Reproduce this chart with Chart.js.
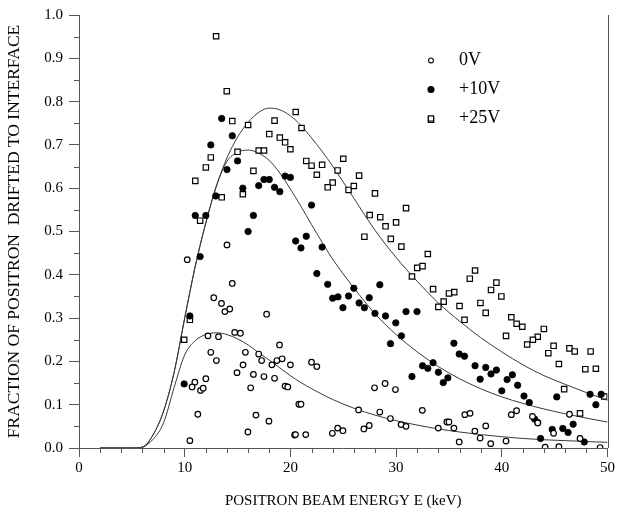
<!DOCTYPE html>
<html>
<head>
<meta charset="utf-8">
<script src="https://cdn.jsdelivr.net/npm/chart.js@4/dist/chart.umd.min.js"></script>
<style>
  html, body { margin: 0; padding: 0; background: #fff; }
  canvas { display: block; }
</style>
</head>
<body>
<canvas id="c" width="617" height="514"></canvas>
<script>
// ---------- DATA ----------
const seriesNames = ["0V", "+10V", "+25V"];
const xTicks = [0, 10, 20, 30, 40, 50];
const yTicks = [0.0, 0.1, 0.2, 0.3, 0.4, 0.5, 0.6, 0.7, 0.8, 0.9, 1.0];

// 0V (open circles)
const v0X = [10.24,14.0,14.5,12.75,13.48,13.8,14.26,17.75,12.2,13.2,14.73,15.27,18.97,12.47,15.74,17.0,13.0,17.28,18.72,19.22,18.25,20.0,15.52,14.95,16.5,17.5,18.5,12.0,10.96,10.7,11.5,11.75,16.24,19.5,19.75,20.8,11.24,16.74,17.97,15.98,20.4,10.49,
  22.0,22.5,21.0,27.96,28.96,29.94,26.45,28.46,29.46,32.48,30.47,30.94,34.8,33.99,26.95,27.46,24.47,24.97,23.97,20.48,21.45,
  36.5,37.0,35.0,35.47,37.45,37.95,38.48,35.97,38.95,40.4,40.9,41.4,42.9,43.4,44.9,46.4,47.4,45.4,44.1,49.3];
const v0Y = [0.435,0.469,0.380,0.347,0.334,0.315,0.321,0.309,0.259,0.257,0.267,0.265,0.238,0.221,0.221,0.217,0.202,0.202,0.202,0.206,0.192,0.192,0.192,0.174,0.170,0.165,0.161,0.160,0.152,0.141,0.133,0.138,0.139,0.143,0.141,0.101,0.078,0.076,0.062,0.037,0.030,0.017,
  0.198,0.188,0.101,0.139,0.149,0.135,0.088,0.083,0.068,0.087,0.054,0.050,0.060,0.046,0.044,0.052,0.046,0.040,0.034,0.031,0.031,
  0.077,0.080,0.060,0.046,0.039,0.023,0.051,0.014,0.010,0.016,0.077,0.086,0.073,0.058,0.034,0.078,0.022,0.003,0.002,0.001];

// +10V (filled circles)
const v10X = [13.5,14.5,12.47,15.0,14.0,17.5,18.0,19.5,20.0,12.94,15.5,17.0,18.5,19.0,11.0,12.0,16.5,16.0,20.5,11.46,10.49,9.95,
  22.0,21.5,21.0,23.0,
  22.5,23.53,24.0,24.5,24.97,25.5,26.0,28.46,26.5,27.0,27.46,28.0,29.0,29.97,30.94,31.98,30.5,29.47,32.5,33.0,33.5,34.0,34.9,34.46,31.5,
  35.47,35.97,36.47,37.47,38.48,39.49,37.95,38.98,41.0,40.5,41.5,40.0,42.1,42.6,45.2,48.35,49.4,48.9,43.1,43.4,46.75,45.77,46.27,44.77,43.67,47.8];
const v10Y = [0.761,0.721,0.700,0.663,0.643,0.620,0.620,0.628,0.625,0.582,0.600,0.606,0.602,0.592,0.537,0.537,0.537,0.500,0.478,0.442,0.305,0.148,
  0.561,0.489,0.462,0.464,
  0.403,0.378,0.346,0.349,0.324,0.351,0.369,0.377,0.335,0.324,0.347,0.311,0.305,0.289,0.315,0.315,0.259,0.241,0.190,0.184,0.197,0.175,0.162,0.151,0.165,
  0.242,0.217,0.212,0.190,0.186,0.180,0.159,0.171,0.169,0.158,0.145,0.132,0.120,0.105,0.118,0.124,0.124,0.100,0.067,0.059,0.055,0.045,0.036,0.043,0.022,0.014];

// +25V (open squares)
const v25X = [12.97,13.98,14.5,16.0,18.5,20.5,18.0,19.0,19.5,20.0,12.47,12.0,15.0,17.0,17.5,16.5,11.0,13.5,15.5,11.46,10.49,9.95,
  21.05,33.3,21.5,22.0,23.0,25.0,22.5,24.47,26.5,24.0,23.53,25.5,26.0,28.0,30.94,27.5,28.5,29.0,30.0,27.0,29.5,30.5,33.0,
  32.0,32.5,31.5,33.5,34.5,34.0,
  37.47,36.97,38.98,39.49,39.96,35.5,35.0,37.98,36.0,38.48,36.47,40.9,41.4,41.94,43.98,40.4,43.4,42.94,42.4,44.9,44.4,46.4,46.9,48.4,45.4,47.9,48.9,45.9,49.7,47.4];
const v25Y = [0.951,0.824,0.755,0.746,0.756,0.776,0.725,0.717,0.706,0.690,0.671,0.648,0.684,0.687,0.687,0.640,0.617,0.579,0.586,0.525,0.296,0.250,
  0.739,0.758,0.663,0.652,0.654,0.668,0.631,0.641,0.629,0.613,0.602,0.596,0.605,0.588,0.554,0.538,0.533,0.512,0.521,0.488,0.483,0.465,0.448,
  0.416,0.420,0.396,0.367,0.338,0.326,
  0.410,0.391,0.365,0.382,0.350,0.360,0.357,0.335,0.328,0.312,0.296,0.302,0.287,0.280,0.275,0.259,0.257,0.250,0.239,0.236,0.219,0.230,0.223,0.223,0.194,0.182,0.183,0.136,0.119,0.080];

// fitted curves
const curveX = [2,5,6,7,8,9,10,11,12,13,14,15,16,17,18,19,20,21,22,23,24,26,28,30,32,34,36,38,40,42,44,46,48,50];
const fit0V  = [0,0,0.002,0.02,0.058,0.14,0.215,0.248,0.262,0.266,0.262,0.252,0.238,0.22,0.203,0.185,0.167,0.151,0.137,0.124,0.112,0.092,0.076,0.063,0.053,0.044,0.037,0.031,0.026,0.022,0.019,0.017,0.015,0.013];
const fit10V = [0,0,0.002,0.03,0.085,0.175,0.3,0.42,0.52,0.605,0.662,0.683,0.688,0.681,0.664,0.635,0.598,0.558,0.516,0.475,0.436,0.37,0.31,0.262,0.222,0.188,0.16,0.137,0.118,0.103,0.09,0.079,0.069,0.06];
const fit25V = [0,0,0.002,0.03,0.085,0.175,0.3,0.42,0.52,0.605,0.67,0.718,0.752,0.775,0.785,0.781,0.767,0.745,0.716,0.685,0.651,0.577,0.503,0.44,0.385,0.335,0.293,0.255,0.222,0.192,0.167,0.147,0.128,0.11];

// ---------- BUILD ----------
const pts = (xs, ys) => xs.map((x, i) => ({ x: x, y: ys[i] }));
const SERIF = "'Liberation Serif', 'Times New Roman', serif";
const AXIS_COLOR = '#555';

const curveStyle = {
  type: 'line', showLine: true, pointRadius: 0, borderColor: '#3a3a3a',
  borderWidth: 1, fill: false, cubicInterpolationMode: 'monotone'
};

const datasets = [
  { label: seriesNames[0], type: 'scatter', data: pts(v0X, v0Y), pointStyle: 'circle',
    pointRadius: 2.8, pointBorderWidth: 1.2, pointBorderColor: '#000', pointBackgroundColor: '#fff' },
  { label: seriesNames[1], type: 'scatter', data: pts(v10X, v10Y), pointStyle: 'circle',
    pointRadius: 3.2, pointBorderWidth: 0.8, pointBorderColor: '#000', pointBackgroundColor: '#000' },
  { label: seriesNames[2], type: 'scatter', data: pts(v25X, v25Y), pointStyle: 'rect',
    pointRadius: 3.8, pointBorderWidth: 1.2, pointBorderColor: '#000', pointBackgroundColor: '#fff' },
  Object.assign({ label: 'fit 0V', data: pts(curveX, fit0V) }, curveStyle),
  Object.assign({ label: 'fit +10V', data: pts(curveX, fit10V) }, curveStyle),
  Object.assign({ label: 'fit +25V', data: pts(curveX, fit25V) }, curveStyle)
];

const framePlugin = {
  id: 'frame',
  afterDraw(chart) {
    const { ctx, chartArea: a, scales: { x, y } } = chart;
    ctx.save();
    ctx.strokeStyle = AXIS_COLOR;
    ctx.lineWidth = 1;
    ctx.beginPath();
    const rx = Math.round(a.right) + 0.5;
    ctx.moveTo(rx, a.top); ctx.lineTo(rx, a.bottom);
    for (let v = 2; v < 50; v += 2) {
      if (v % 10 === 0) continue;
      const px = Math.round(x.getPixelForValue(v)) + 0.5;
      ctx.moveTo(px, a.bottom); ctx.lineTo(px, a.bottom + 5);
    }
    for (let k = 1; k < 20; k += 2) {
      const py = Math.round(y.getPixelForValue(k * 0.05)) + 0.5;
      ctx.moveTo(a.left, py); ctx.lineTo(a.left - 5, py);
    }
    ctx.stroke();
    ctx.restore();
  }
};

const legendPlugin = {
  id: 'cornerLegend',
  afterDraw(chart, args, opts) {
    const { ctx, scales: { x, y } } = chart;
    const mx = x.getPixelForValue(opts.atX);
    const my0 = y.getPixelForValue(opts.atY);
    ctx.save();
    ctx.font = '18px ' + SERIF;
    ctx.textBaseline = 'middle';
    for (let i = 0; i < 3; i++) {
      const ds = chart.data.datasets[i];
      const my = my0 + i * opts.rowGap;
      ctx.beginPath();
      ctx.lineWidth = 1.1;
      ctx.strokeStyle = '#000';
      if (ds.pointStyle === 'rect') {
        ctx.rect(mx - 2.6, my - 2.6, 5.2, 5.2);
        ctx.fillStyle = '#fff'; ctx.fill(); ctx.stroke();
      } else {
        const r = i === 1 ? 3 : 2.4;
        ctx.arc(mx, my, r, 0, Math.PI * 2);
        ctx.fillStyle = ds.pointBackgroundColor; ctx.fill(); ctx.stroke();
      }
      ctx.fillStyle = '#000';
      ctx.fillText(ds.label, mx + opts.textGap, my);
    }
    ctx.restore();
  }
};

new Chart(document.getElementById('c'), {
  type: 'scatter',
  data: { datasets },
  plugins: [framePlugin, legendPlugin],
  options: {
    responsive: false,
    animation: false,
    devicePixelRatio: 1,
    layout: { padding: { left: 0, right: 8, top: 12, bottom: 0 } },
    plugins: {
      legend: { display: false },
      tooltip: { enabled: false },
      cornerLegend: { atX: 33.3, atY: 0.895, rowGap: 29, textGap: 28 }
    },
    scales: {
      x: {
        type: 'linear', min: 0, max: 50,
        afterFit(s) { s.height = 66; },
        afterBuildTicks(s) { s.ticks = xTicks.map(v => ({ value: v })); },
        ticks: { font: { family: SERIF, size: 15 }, color: '#000', padding: 2, maxRotation: 0 },
        grid: { display: true, drawOnChartArea: false, tickLength: 9, color: AXIS_COLOR },
        border: { display: true, color: AXIS_COLOR },
        title: { display: true, text: 'POSITRON BEAM ENERGY E (keV)', color: '#000',
          font: { family: SERIF, size: 15 }, padding: { top: 0, bottom: 4 } }
      },
      y: {
        type: 'linear', min: 0, max: 1,
        afterFit(s) { s.width = 79; },
        afterBuildTicks(s) { s.ticks = yTicks.map(v => ({ value: v })); },
        ticks: { font: { family: SERIF, size: 15 }, color: '#000', padding: 6,
          callback: v => Number(v).toFixed(1) },
        grid: { display: true, drawOnChartArea: false, tickLength: 10, color: AXIS_COLOR },
        border: { display: true, color: AXIS_COLOR },
        title: { display: true, text: 'FRACTION OF POSITRON  DRIFTED TO INTERFACE', color: '#000',
          font: { family: SERIF, size: 17.5 }, padding: { top: 4, bottom: 0 } }
      }
    }
  }
});
</script>
</body>
</html>
